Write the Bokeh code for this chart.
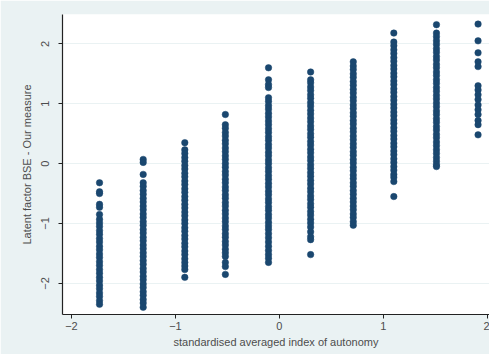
from bokeh.plotting import figure
from bokeh.models import FixedTicker, ColumnDataSource
from bokeh.embed import file_html
from bokeh.resources import INLINE

# standardised averaged index of autonomy (discrete levels)
autonomy_levels = [-1.73, -1.31, -0.91, -0.52, -0.105, 0.30, 0.71, 1.10, 1.51, 1.91]

# Latent factor BSE - Our measure, observed at each autonomy level
bse_level_1 = [-0.32, -0.47, -0.50, -0.68, -0.73, -0.85, -0.93, -0.99, -1.05, -1.12, -1.18, -1.25,
               -1.31, -1.38, -1.44, -1.51, -1.57, -1.64, -1.70, -1.77, -1.83, -1.90, -1.96, -2.03,
               -2.09, -2.16, -2.22, -2.29, -2.35]
bse_level_2 = [0.07, 0.02, -0.18, -0.32, -0.38, -0.45, -0.51, -0.58, -0.64, -0.71, -0.77, -0.84,
               -0.90, -0.97, -1.03, -1.10, -1.16, -1.23, -1.29, -1.36, -1.42, -1.49, -1.55, -1.62,
               -1.68, -1.75, -1.81, -1.88, -1.94, -2.01, -2.07, -2.14, -2.20, -2.27, -2.33, -2.40]
bse_level_3 = [0.35, 0.23, 0.17, 0.10, 0.04, -0.03, -0.09, -0.16, -0.22, -0.29, -0.35, -0.42,
               -0.48, -0.55, -0.61, -0.68, -0.74, -0.81, -0.87, -0.94, -1.00, -1.07, -1.13, -1.20,
               -1.26, -1.33, -1.39, -1.46, -1.52, -1.59, -1.65, -1.71, -1.77, -1.90]
bse_level_4 = [0.82, 0.65, 0.59, 0.52, 0.46, 0.39, 0.33, 0.26, 0.20, 0.13, 0.07, 0.00, -0.06,
               -0.13, -0.19, -0.26, -0.32, -0.39, -0.45, -0.52, -0.58, -0.65, -0.71, -0.78, -0.84,
               -0.91, -0.97, -1.04, -1.10, -1.17, -1.23, -1.30, -1.36, -1.43, -1.49, -1.55, -1.65,
               -1.72, -1.85]
bse_level_5 = [1.60, 1.40, 1.32, 1.27, 1.10, 1.04, 0.97, 0.91, 0.84, 0.78, 0.71, 0.65, 0.58, 0.52,
               0.45, 0.39, 0.32, 0.26, 0.19, 0.13, 0.06, 0.00, -0.07, -0.13, -0.20, -0.26, -0.33,
               -0.39, -0.46, -0.52, -0.59, -0.65, -0.72, -0.78, -0.85, -0.91, -0.98, -1.04, -1.10,
               -1.17, -1.24, -1.31, -1.38, -1.45, -1.52, -1.58, -1.65]
bse_level_6 = [1.53, 1.40, 1.35, 1.28, 1.22, 1.15, 1.09, 1.02, 0.96, 0.89, 0.83, 0.76, 0.70, 0.63,
               0.57, 0.50, 0.44, 0.37, 0.31, 0.24, 0.18, 0.11, 0.05, -0.02, -0.08, -0.15, -0.21,
               -0.28, -0.34, -0.41, -0.47, -0.54, -0.60, -0.67, -0.73, -0.80, -0.86, -0.93, -0.99,
               -1.06, -1.14, -1.22, -1.27, -1.52]
bse_level_7 = [1.70, 1.63, 1.57, 1.50, 1.44, 1.37, 1.31, 1.24, 1.18, 1.11, 1.05, 0.98, 0.92, 0.85,
               0.79, 0.72, 0.66, 0.59, 0.53, 0.46, 0.40, 0.33, 0.27, 0.20, 0.14, 0.07, 0.01, -0.06,
               -0.12, -0.19, -0.25, -0.32, -0.38, -0.45, -0.51, -0.58, -0.64, -0.71, -0.77, -0.84,
               -0.90, -0.97, -1.03]
bse_level_8 = [2.18, 2.03, 1.97, 1.90, 1.84, 1.77, 1.71, 1.64, 1.58, 1.51, 1.45, 1.38, 1.32, 1.25,
               1.19, 1.12, 1.06, 0.99, 0.93, 0.86, 0.80, 0.73, 0.67, 0.60, 0.54, 0.47, 0.41, 0.34,
               0.28, 0.21, 0.15, 0.08, 0.02, -0.05, -0.11, -0.18, -0.23, -0.30, -0.55]
bse_level_9 = [2.32, 2.18, 2.12, 2.05, 1.99, 1.92, 1.86, 1.79, 1.73, 1.66, 1.60, 1.53, 1.47, 1.40,
               1.34, 1.27, 1.21, 1.14, 1.08, 1.01, 0.95, 0.88, 0.82, 0.75, 0.69, 0.62, 0.56, 0.49,
               0.43, 0.36, 0.30, 0.23, 0.17, 0.10, 0.04, -0.02, -0.05]
bse_level_10 = [2.33, 2.05, 1.85, 1.70, 1.62, 1.30, 1.23, 1.15, 1.07, 0.98, 0.90, 0.82, 0.72,
                0.65, 0.48]

tick_values = [-2, -1, 0, 1, 2]

bse_by_level = [bse_level_1, bse_level_2, bse_level_3, bse_level_4, bse_level_5,
                bse_level_6, bse_level_7, bse_level_8, bse_level_9, bse_level_10]
xs, ys = [], []
for lvl, vals in zip(autonomy_levels, bse_by_level):
    xs.extend([lvl] * len(vals))
    ys.extend(vals)
src = ColumnDataSource(dict(x=xs, y=ys))

BG = "#eaf2f3"
TXT = "#4d4d4d"
FONT = "Liberation Sans"

p = figure(width=489, height=354, output_backend="svg", toolbar_location=None,
           x_range=(-2.086, 2.02), y_range=(-2.52, 2.49),
           min_border_left=62, min_border_right=0, min_border_top=14, min_border_bottom=40,
           border_fill_color=BG, background_fill_color="white", outline_line_color=None)

p.scatter("x", "y", source=src, size=6.5, marker="circle",
          fill_color="#1a476f", line_color="#1a476f", line_width=0.5)

p.xgrid.visible = False
p.ygrid.grid_line_color = BG
p.ygrid.grid_line_width = 1.2
p.ygrid.ticker = FixedTicker(ticks=tick_values)

for ax in (p.xaxis[0], p.yaxis[0]):
    ax.ticker = FixedTicker(ticks=tick_values)
    ax.axis_line_color = "#222222"
    ax.axis_line_width = 1.2
    ax.major_tick_line_color = "#222222"
    ax.major_tick_out = 4
    ax.major_tick_in = 0
    ax.minor_tick_line_color = None
    ax.major_label_text_font = FONT
    ax.major_label_text_font_size = "11px"
    ax.major_label_text_color = TXT
    ax.axis_label_text_font = FONT
    ax.axis_label_text_font_size = "11px"
    ax.axis_label_text_font_style = "normal"
    ax.axis_label_text_color = TXT

p.xaxis.axis_label = "standardised averaged index of autonomy"
p.xaxis.major_label_standoff = 3
p.xaxis.axis_label_standoff = 3

p.yaxis.axis_label = "Latent factor BSE - Our measure"
p.yaxis.major_label_orientation = "vertical"
p.yaxis.major_label_standoff = 9
p.yaxis.axis_label_standoff = 6

open("out.html", "w").write(file_html(p, INLINE))
